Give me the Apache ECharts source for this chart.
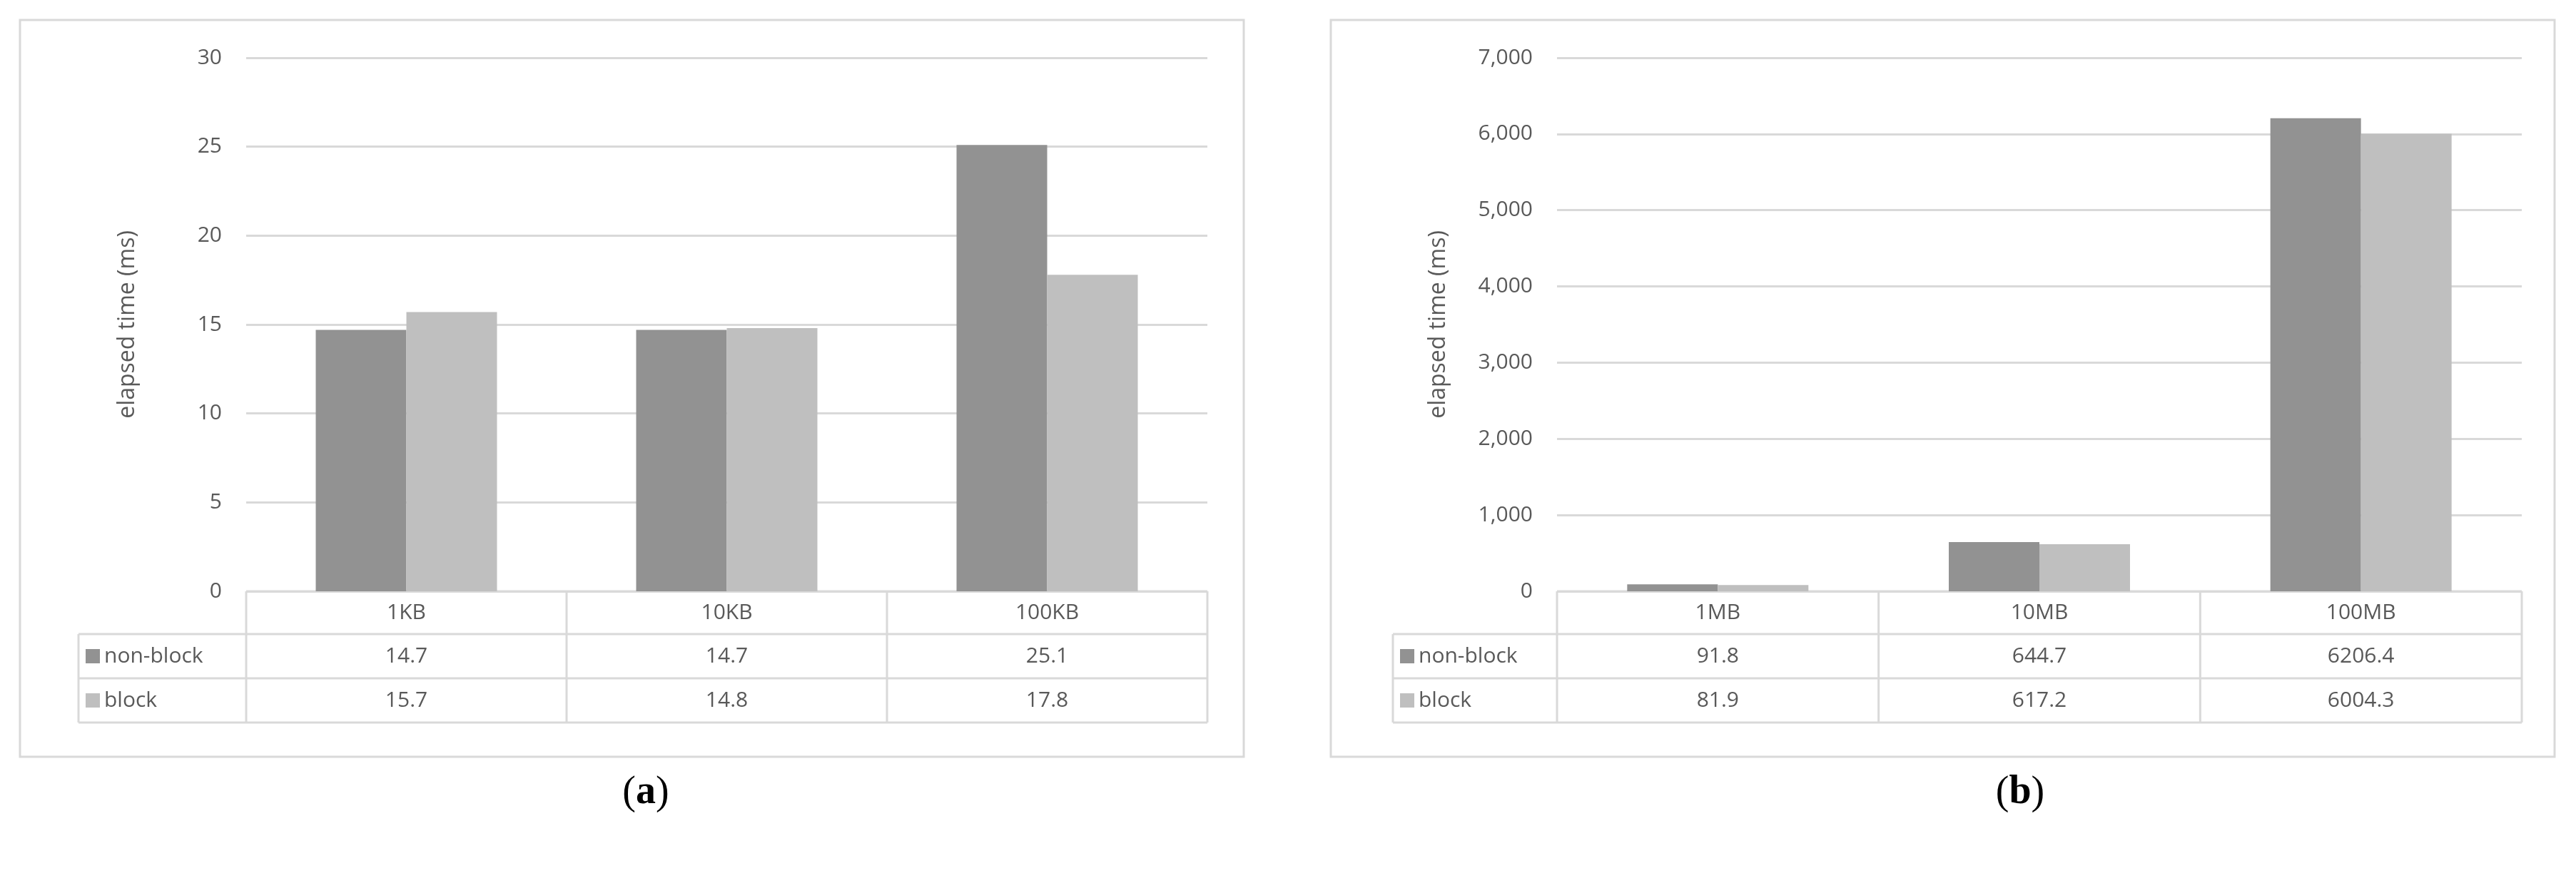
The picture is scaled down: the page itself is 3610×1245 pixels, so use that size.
<!DOCTYPE html>
<html>
<head>
<meta charset="utf-8">
<script src="https://cdn.jsdelivr.net/npm/echarts@6/dist/echarts.min.js"></script>
<style>
	html, body { margin: 0; padding: 0; background: #fff; }
	#chart { width: 3610px; height: 1245px; }
</style>
</head>
<body>
<div id="chart"></div>
<script>
// 数据
const catsA = ['1KB', '10KB', '100KB'];
const nonBlockA = [14.7, 14.7, 25.1];
const blockA = [15.7, 14.8, 17.8];
const ticksA = { min: 0, max: 30, interval: 5 };

const catsB = ['1MB', '10MB', '100MB'];
const nonBlockB = [91.8, 644.7, 6206.4];
const blockB = [81.9, 617.2, 6004.3];
const ticksB = { min: 0, max: 7000, interval: 1000 };

const seriesNames = ['non-block', 'block'];
const colors = ['#929292', '#bfbfbf'];
const captions = ['a', 'b'];

// 布局
const panels = [
	{ frameX: 28, left: 345, width: 1347, labelX: 110, capX: 905, cats: catsA, vals: [nonBlockA, blockA], ticks: ticksA },
	{ frameX: 1865, left: 2182, width: 1352, labelX: 1952, capX: 2831, cats: catsB, vals: [nonBlockB, blockB], ticks: ticksB }
];
const TOP = 81, BASE = 829, ROWS = [829, 889, 951, 1013];
const FONT = '"Open Sans", "Noto Sans", sans-serif';
const TXT = '#595959', LINE = '#d9d9d9';

const chart = echarts.init(document.getElementById('chart'));
const grid = [], xAxis = [], yAxis = [], series = [], graphic = [];

panels.forEach((p, i) => {
	grid.push({ left: p.left, top: TOP, width: p.width, height: BASE - TOP });
	xAxis.push({
		gridIndex: i, type: 'category', data: p.cats,
		axisLine: { show: false }, axisTick: { show: false }, axisLabel: { show: false }
	});
	yAxis.push({
		gridIndex: i, type: 'value', min: p.ticks.min, max: p.ticks.max, interval: p.ticks.interval,
		name: 'elapsed time (ms)', nameLocation: 'middle', nameGap: 150,
		nameTextStyle: { color: TXT, fontSize: 32, fontFamily: FONT },
		axisLine: { show: false }, axisTick: { show: false },
		axisLabel: { color: TXT, fontSize: 30, fontFamily: FONT, margin: 34 },
		splitLine: { lineStyle: { color: LINE, width: 3 } }
	});
	p.vals.forEach((v, k) => {
		series.push({
			type: 'bar', name: seriesNames[k], xAxisIndex: i, yAxisIndex: i,
			data: v, barWidth: 127, barGap: '0%',
			itemStyle: { color: colors[k] }, silent: true
		});
	});

	// 外框
	graphic.push({ type: 'rect', shape: { x: p.frameX, y: 28, width: 1715, height: 1033 },
		style: { fill: 'none', stroke: LINE, lineWidth: 3 } });
	// 表格线
	const right = p.left + p.width, colW = p.width / p.cats.length;
	const hl = (x1, x2, y) => graphic.push({ type: 'line', shape: { x1, y1: y, x2, y2: y },
		style: { stroke: LINE, lineWidth: 3 } });
	const vl = (x, y1, y2) => graphic.push({ type: 'line', shape: { x1: x, y1, x2: x, y2 },
		style: { stroke: LINE, lineWidth: 3 } });
	hl(p.left, right, ROWS[0]);
	hl(p.labelX, right, ROWS[1]);
	hl(p.labelX, right, ROWS[2]);
	hl(p.labelX, right, ROWS[3]);
	vl(p.labelX, ROWS[1], ROWS[3]);
	for (let c = 0; c <= p.cats.length; c++) vl(p.left + c * colW, ROWS[0], ROWS[3]);
	const txt = (x, y, s, align) => graphic.push({ type: 'text', x, y,
		style: { text: s, fill: TXT, fontSize: 30, fontFamily: FONT, align: align || 'center', verticalAlign: 'middle' } });
	p.cats.forEach((c, j) => txt(p.left + (j + 0.5) * colW, (ROWS[0] + ROWS[1]) / 2, c));
	p.vals.forEach((v, k) => {
		const yc = (ROWS[k + 1] + ROWS[k + 2]) / 2;
		graphic.push({ type: 'rect', shape: { x: p.labelX + 10, y: yc - 10, width: 20, height: 20 },
			style: { fill: colors[k] } });
		txt(p.labelX + 36, yc, seriesNames[k], 'left');
		v.forEach((d, j) => txt(p.left + (j + 0.5) * colW, yc, String(d)));
	});
	// 图注
	graphic.push({ type: 'text', x: p.capX, y: 1112,
		style: { text: '({b|' + captions[i] + '})', rich: { b: { fontWeight: 'bold', fontSize: 56, fontFamily: '"Liberation Serif", serif', fill: '#000' } },
			fill: '#000', fontSize: 56, fontFamily: '"Liberation Serif", serif', align: 'center', verticalAlign: 'middle' } });
});

chart.setOption({
	backgroundColor: '#fff',
	animation: false,
	grid, xAxis, yAxis, series, graphic
});
</script>
</body>
</html>
